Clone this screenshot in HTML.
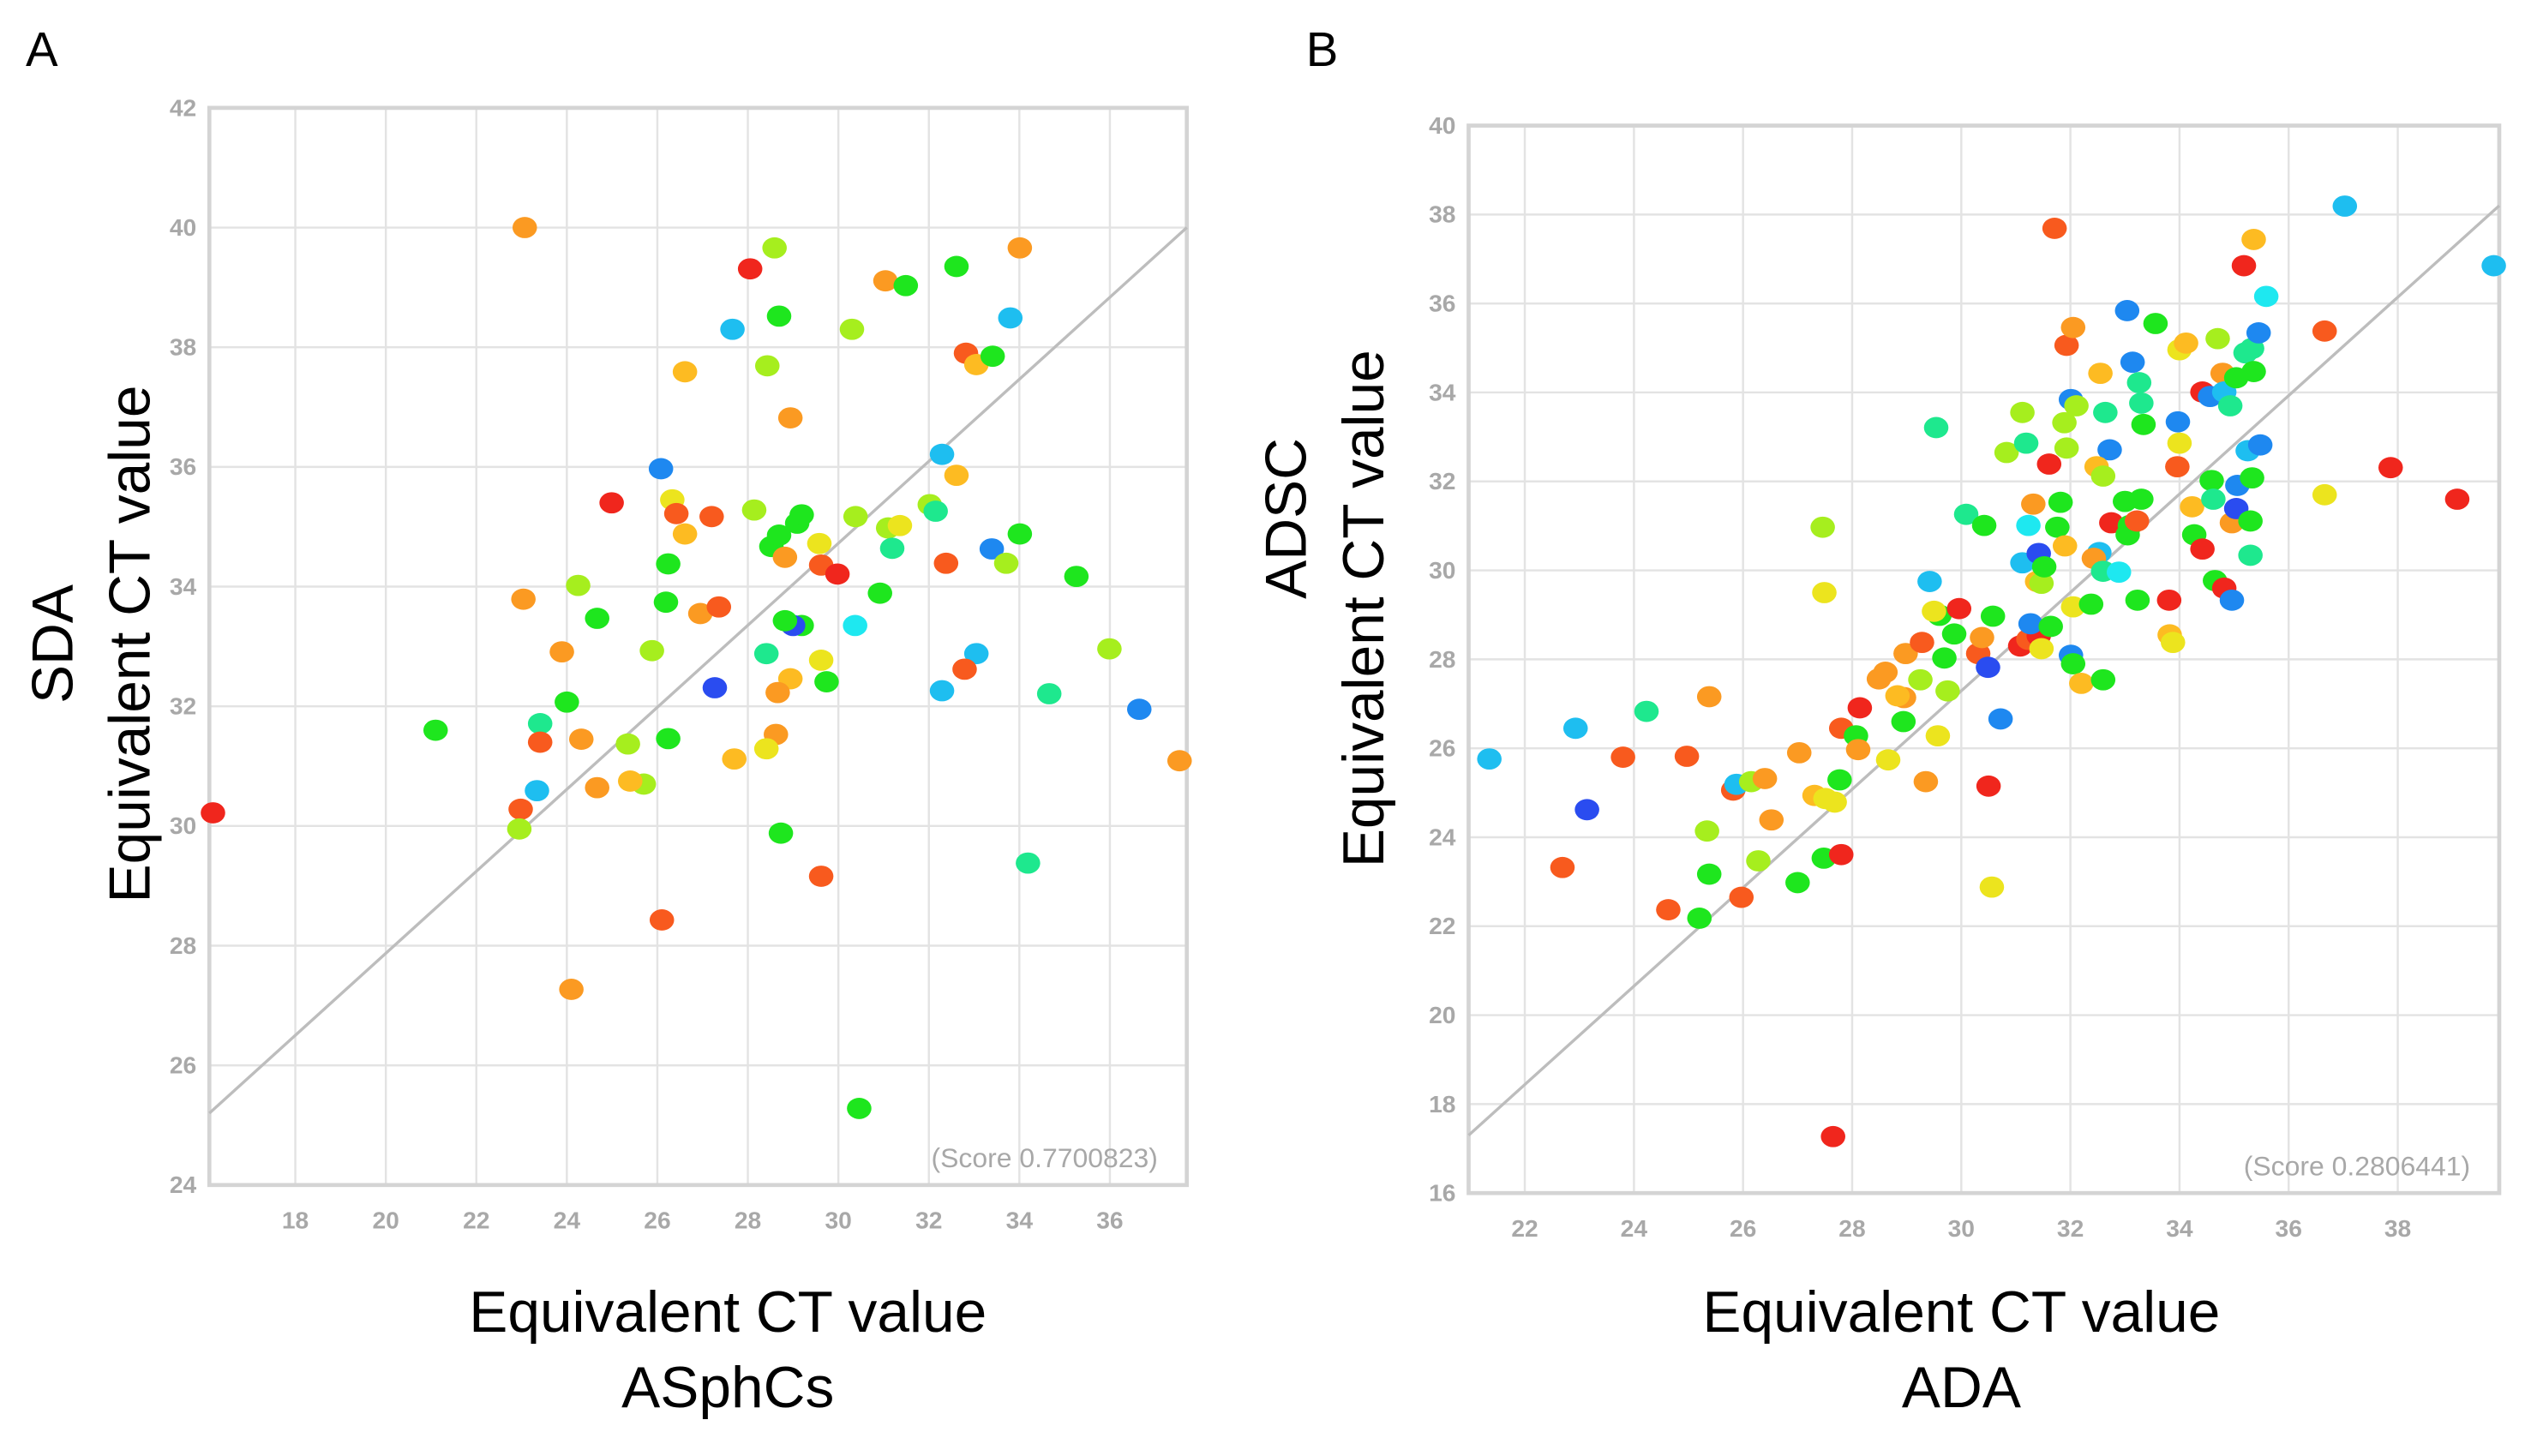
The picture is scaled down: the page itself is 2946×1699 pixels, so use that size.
<!DOCTYPE html>
<html><head><meta charset="utf-8"><style>
html,body{margin:0;padding:0;background:#fff}
svg{display:block}
text{font-family:"Liberation Sans",sans-serif}
</style></head><body>
<svg id="fig" width="2946" height="1699" viewBox="0 0 1568 904.3" preserveAspectRatio="none" xmlns="http://www.w3.org/2000/svg">
<rect width="1568" height="904.3" fill="#fff"/>
<g id="pa"></g>
<g id="pb"></g>
</svg>
<script>
const C={r:'#f0261d',or:'#f85a1e',o:'#fb9a22',oy:'#fdbb22',y:'#ece41e',yg:'#a6ee1e',g:'#1ee61e',ag:'#1ee88e',a:'#1ee8f0',ds:'#1ebef0',db:'#1e88f0',b:'#2a4cf0'};
const aX=[16.18,23.07,28.05,28.59,27.66,28.69,28.43,26.61,28.94,30.30,31.04,31.49,32.61,34.01,33.80,32.82,33.05,33.41,32.29,32.61,26.08,24.99,26.33,26.42,26.61,27.20,28.14,28.52,28.69,28.82,29.09,29.19,29.58,29.62,29.98,30.38,31.10,31.36,32.02,32.15,31.19,30.92,32.38,33.39,33.71,34.01,35.26,35.99,36.65,37.54,34.66,34.19,33.05,32.79,32.29,30.37,29.19,29.00,28.82,28.41,28.94,28.66,29.62,29.74,28.62,28.41,27.70,27.27,26.95,27.36,26.19,26.24,25.88,26.24,25.70,25.40,25.35,24.67,24.32,24.67,24.25,24.00,23.89,23.04,23.41,23.41,23.34,22.98,22.95,21.10,24.10,26.10,28.73,29.62,30.46];
const aY=[30.22,40.0,39.31,39.66,38.30,38.52,37.69,37.59,36.82,38.30,39.11,39.03,39.35,39.66,38.49,37.90,37.71,37.85,36.21,35.86,35.97,35.40,35.45,35.22,34.88,35.17,35.28,34.67,34.86,34.49,35.06,35.20,34.72,34.36,34.21,35.17,34.98,35.02,35.37,35.26,34.64,33.89,34.39,34.63,34.39,34.88,34.17,32.96,31.95,31.09,32.21,29.38,32.88,32.62,32.26,33.35,33.35,33.35,33.43,32.88,32.46,32.23,32.77,32.41,31.53,31.29,31.12,32.31,33.55,33.66,33.74,34.38,32.93,31.46,30.70,30.75,31.37,30.64,31.45,33.47,34.02,32.07,32.91,33.79,31.71,31.40,30.59,30.28,29.95,31.60,27.27,28.43,29.88,29.16,25.28];
const aC=['r','o','r','yg','ds','g','yg','oy','o','yg','o','g','g','o','ds','or','oy','g','ds','oy','db','r','y','or','oy','or','yg','g','g','o','g','g','y','or','r','yg','yg','y','yg','ag','ag','g','or','db','yg','g','g','yg','db','o','ag','ag','ds','or','ds','a','g','b','g','ag','oy','o','y','g','o','y','oy','b','o','or','g','g','yg','g','yg','oy','yg','o','o','g','yg','g','o','o','ag','or','ds','or','yg','g','o','or','g','or','g'];
const bX=[21.35,22.93,23.14,22.69,23.80,24.23,24.97,24.63,25.38,25.34,25.38,25.20,25.82,25.88,26.15,26.40,26.52,26.28,25.97,27.0,27.03,27.31,27.51,27.68,27.48,27.80,27.46,27.49,27.77,27.80,28.14,28.07,28.11,28.66,28.94,28.49,28.61,28.95,28.83,28.98,29.28,29.25,29.35,29.57,29.75,29.69,29.42,29.54,29.60,29.50,29.87,29.96,30.09,30.42,30.31,30.38,30.49,30.58,30.50,30.72,30.56,30.83,31.08,31.23,31.42,31.47,31.12,31.19,31.12,31.23,31.32,31.42,31.39,31.47,31.27,31.52,31.64,31.76,31.82,31.61,31.71,31.93,32.05,31.89,31.93,32.01,32.11,31.90,32.05,32.01,32.05,32.20,32.60,32.38,32.55,32.64,32.72,32.48,32.60,32.53,32.43,32.60,32.89,32.75,33.0,33.09,33.05,33.22,33.30,33.04,33.14,33.26,33.30,33.34,33.56,33.23,33.81,33.82,33.88,33.97,34.0,33.96,34.0,34.12,34.27,34.42,34.23,34.42,34.59,34.62,34.65,34.79,34.70,34.56,34.82,34.93,35.04,34.82,34.96,34.96,35.04,35.06,35.18,35.36,35.21,35.25,35.33,35.36,35.45,35.48,35.33,35.30,35.30,35.59,36.66,36.66,37.03,37.87,39.09,39.76,27.65];
const bY=[25.76,26.45,24.62,23.32,25.80,26.83,25.82,22.37,27.16,24.14,23.17,22.18,25.06,25.19,25.25,25.32,24.39,23.47,22.65,22.98,25.90,24.94,24.87,24.79,23.53,23.61,30.97,29.50,25.29,26.45,26.91,26.28,25.97,25.74,26.60,27.56,27.71,27.14,27.18,28.13,28.38,27.54,25.25,26.28,27.29,28.03,29.75,33.21,28.99,29.08,28.57,29.14,31.26,31.01,28.13,28.49,27.82,28.97,25.15,26.66,22.88,32.65,28.30,28.45,28.53,28.24,33.55,32.86,30.17,31.01,31.49,30.38,29.75,29.71,28.80,30.08,28.74,30.97,31.53,32.39,37.69,35.06,35.46,33.32,32.75,33.84,33.70,30.55,29.18,28.09,27.90,27.46,27.54,29.24,34.43,33.55,32.71,32.33,32.12,30.40,30.27,29.98,29.96,31.07,31.55,31.01,30.80,31.11,31.60,35.84,34.68,34.22,33.76,33.28,35.55,29.33,29.33,28.55,28.38,33.34,32.86,32.33,34.96,35.11,30.80,30.48,31.43,34.01,32.02,31.60,29.77,34.43,35.21,33.91,34.01,33.70,34.33,29.60,29.33,31.07,31.39,31.91,36.85,37.44,34.89,32.69,34.99,34.47,35.34,32.82,32.08,31.11,30.34,36.16,35.38,31.70,38.19,32.31,31.60,36.85,17.27];
const bC=['ds','ds','b','or','or','ag','or','or','o','yg','g','g','or','ds','yg','o','o','yg','or','g','o','oy','y','y','g','r','yg','y','g','or','r','g','o','y','g','o','o','o','oy','o','or','yg','o','y','yg','g','ds','ag','g','y','g','r','ag','g','or','o','b','g','r','db','y','yg','r','or','r','y','yg','ag','ds','a','o','b','oy','yg','db','g','g','g','g','r','or','or','o','yg','yg','db','yg','oy','y','db','g','oy','g','g','oy','ag','db','oy','yg','ds','o','ag','a','r','g','g','g','or','g','db','db','ag','ag','g','g','g','r','oy','y','db','y','or','y','oy','g','r','oy','r','g','ag','g','o','yg','db','ds','ag','g','r','db','o','b','db','r','oy','ag','ds','ag','g','db','db','g','g','ag','a','or','y','ds','r','r','ds','r'];
const aXT=[18,20,22,24,26,28,30,32,34,36], aYT=[24,26,28,30,32,34,36,38,40,42];
const bXT=[22,24,26,28,30,32,34,36,38], bYT=[16,18,20,22,24,26,28,30,32,34,36,38,40];
const NS='http://www.w3.org/2000/svg';
function mk(p,t,a,txt){const e=document.createElementNS(NS,t);for(const k in a)e.setAttribute(k,a[k]);if(txt!==undefined)e.textContent=txt;p.appendChild(e);return e;}
function panel(g,cfg){
 const sx=v=>cfg.L+(v-cfg.x0)/(cfg.x1-cfg.x0)*(cfg.R-cfg.L);
 const sy=v=>cfg.B-(v-cfg.y0)/(cfg.y1-cfg.y0)*(cfg.B-cfg.T);
 cfg.xt.forEach(v=>{const l=mk(g,'line',{x1:sx(v),x2:sx(v),y1:cfg.T,y2:cfg.B,stroke:'#e3e3e3','stroke-width':1.3});
 
 
 const t=mk(g,'text',{x:sx(v),y:cfg.B+27,'text-anchor':'middle','font-size':15,'font-weight':'bold',fill:'#a8a8a8'},v);
 
 });
 cfg.yt.forEach(v=>{const l=mk(g,'line',{x1:cfg.L,x2:cfg.R,y1:sy(v),y2:sy(v),stroke:'#e3e3e3','stroke-width':1.3});
 
 
 const t=mk(g,'text',{x:cfg.L-8,y:sy(v)+5,'text-anchor':'end','font-size':15,'font-weight':'bold',fill:'#a8a8a8'},v);
 
 });
 const fr=mk(g,'rect',{x:cfg.L,y:cfg.T,width:cfg.R-cfg.L,height:cfg.B-cfg.T,fill:'none',stroke:'#d4d4d4','stroke-width':2.5});
 
 
 const dl=mk(g,'line',{x1:cfg.L,y1:sy(cfg.d0),x2:cfg.R,y2:sy(cfg.d1),stroke:'#bdbdbd','stroke-width':1.8});
 
 
 cfg.X.forEach((x,i)=>{const e=mk(g,'ellipse',{cx:sx(x),cy:sy(cfg.Y[i]),rx:7.6,ry:6.6,fill:C[cfg.Cc[i]]});
 
 });
 const s=mk(g,'text',{x:cfg.R-18,y:cfg.B-11,'text-anchor':'end','font-size':17,fill:'#a8a8a8'},cfg.score);
 
 
}
panel(document.getElementById('pa'),{L:130,R:737,T:67,B:736,x0:16.1,x1:37.7,y0:24,y1:42,xt:aXT,yt:aYT,X:aX,Y:aY,Cc:aC,d0:25.2,d1:40,score:'(Score 0.7700823)'});
panel(document.getElementById('pb'),{L:912,R:1552,T:78,B:741,x0:20.97,x1:39.86,y0:16,y1:40,xt:bXT,yt:bYT,X:bX,Y:bY,Cc:bC,d0:17.3,d1:38.2,score:'(Score 0.2806441)'});
</script>
<svg style="position:absolute;left:0;top:0" width="2946" height="1699" viewBox="0 0 1568 904.3" preserveAspectRatio="none" xmlns="http://www.w3.org/2000/svg">
<g font-family="Liberation Sans, sans-serif" fill="#000">
<text x="16" y="41" font-size="30">A</text>
<text x="811" y="41" font-size="30">B</text>
<text transform="translate(45,400) rotate(-90)" text-anchor="middle" font-size="36">SDA</text>
<text transform="translate(93,400) rotate(-90)" text-anchor="middle" font-size="36">Equivalent CT value</text>
<text x="452" y="827" text-anchor="middle" font-size="36">Equivalent CT value</text>
<text x="452" y="874" text-anchor="middle" font-size="36">ASphCs</text>
<text transform="translate(811,322) rotate(-90)" text-anchor="middle" font-size="36">ADSC</text>
<text transform="translate(859,378) rotate(-90)" text-anchor="middle" font-size="36">Equivalent CT value</text>
<text x="1218" y="827" text-anchor="middle" font-size="36">Equivalent CT value</text>
<text x="1218" y="874" text-anchor="middle" font-size="36">ADA</text>
</g></svg>
</body></html>
